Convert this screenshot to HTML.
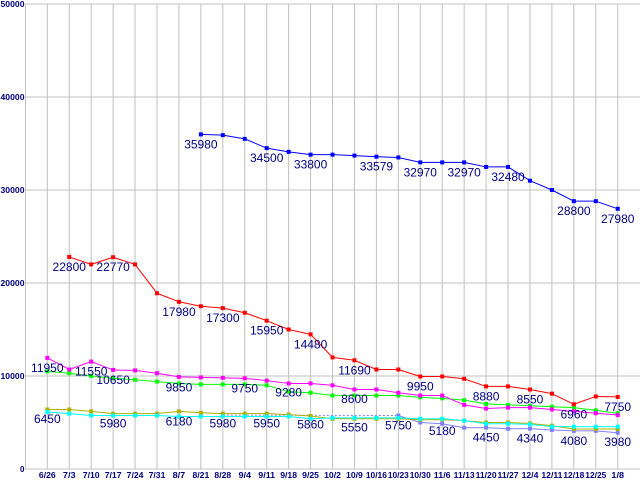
<!DOCTYPE html>
<html><head><meta charset="utf-8"><style>
body{margin:0;background:#fff}
svg{display:block;font-family:"Liberation Sans",sans-serif}
</style></head><body>
<svg id="chart" width="640" height="480"></svg>
<script>
const categories=["6/26","7/3","7/10","7/17","7/24","7/31","8/7","8/21","8/28","9/4","9/11","9/18","9/25","10/2","10/9","10/16","10/23","10/30","11/6","11/13","11/20","11/27","12/4","12/11","12/18","12/25","1/8"];
const yTicks=[0,10000,20000,30000,40000,50000];
const N=null;
const blueVals=[N,N,N,N,N,N,N,35980,35900,35500,34500,34100,33800,33800,33700,33579,33500,32970,32970,32970,32480,32480,31000,30000,28800,28800,27980];
const redVals=[N,22800,22000,22770,22000,18900,17980,17500,17300,16800,15950,15000,14480,12000,11690,10700,10700,9950,9950,9700,8880,8880,8550,8100,6960,7800,7750];
const magentaVals=[11950,10700,11550,10650,10600,10300,9900,9850,9800,9750,9500,9200,9200,9000,8550,8550,8200,7900,7900,6900,6500,6600,6600,6400,6200,6000,5800];
const greenVals=[10500,10300,10000,9750,9600,9400,9200,9100,9100,9100,9000,8300,8200,7900,7900,7900,7900,7700,7600,7400,7000,6900,6800,6700,6600,6300,6000];
const oliveVals=[6400,6400,6200,5950,5950,5950,6200,6050,5950,5950,5950,5850,5700,5400,5400,5400,5400,5300,5300,5200,5000,5000,4900,4650,4300,4300,4300];
const cyanVals=[6130,5950,5750,5750,5750,5750,5650,5650,5650,5650,5650,5650,5400,5500,5500,5500,5500,5400,5400,5200,4870,4870,4800,4550,4550,4550,4550];
const lavenderVals=[N,N,N,N,N,N,N,N,5800,N,N,N,N,N,N,N,5750,5000,4870,4440,4450,4330,4340,4200,4100,4100,3900];
const labelIdx=[1,3,6,8,10,12,14,0,2,3,6,9,11,14,17,20,22,24,26,7,10,12,15,17,19,21,24,26,0,3,6,8,10,12,14,16,18,20,22,24,26];
const labelVals=[22800,22770,17980,17300,15950,14480,11690,11950,11550,10650,9850,9750,9280,8600,9950,8880,8550,6960,7750,35980,34500,33800,33579,32970,32970,32480,28800,27980,6450,5980,6180,5980,5950,5860,5550,5750,5180,4450,4340,4080,3980];

const svg=document.getElementById('chart');
const NS='http://www.w3.org/2000/svg';
const x0=47.3,dx=21.94,yBase=469,yTop=4,left=25.5;
function xS(i){return x0+i*dx;}
function yS(v){return yBase-v*(yBase-yTop)/50000;}
function mk(t,a,p){const e=document.createElementNS(NS,t);for(const k in a)e.setAttribute(k,a[k]);(p||svg).appendChild(e);return e;}

const grid=mk('g',{});


yTicks.forEach(v=>{
  const l=mk('line',{x1:left,x2:640,y1:yS(v),y2:yS(v),stroke:'#c0c0c0','stroke-width':1},grid);
  
  
  const s=String(v);
  const attrs={x:left-1,y:yS(v)+3,'text-anchor':'end','font-size':8,'font-weight':'bold',fill:'#000080'};
  if(s.length>1){attrs.textLength=s.length*4.8;attrs.lengthAdjust='spacingAndGlyphs';}
  const t=mk('text',attrs,svg);
  t.textContent=s;
  
  
});
categories.forEach((c,i)=>{
  const l=mk('line',{x1:xS(i),x2:xS(i),y1:yTop,y2:yBase,stroke:'#c0c0c0','stroke-width':1},grid);
  
  
  const t=mk('text',{x:xS(i),y:yBase+9,'text-anchor':'middle','font-size':8,'font-weight':'bold',fill:'#000080',textLength:c.length*4.2,lengthAdjust:'spacingAndGlyphs'},svg);
  t.textContent=c;
  
  
});
const ax=mk('line',{x1:left,x2:left,y1:yTop,y2:yBase,stroke:'#c0c0c0','stroke-width':1});



function series(vals,color,name){
  const g=mk('g',{});
  
  
  let prev=-1;
  vals.forEach((v,i)=>{
    if(v===null)return;
    if(prev>=0){
      const ln=mk('line',{x1:xS(prev),y1:yS(vals[prev]),x2:xS(i),y2:yS(v),stroke:color,'stroke-width':1},g);
      if(i-prev>1)ln.setAttribute('stroke-dasharray','2,2');
      
      
    }
    prev=i;
  });
  vals.forEach((v,i)=>{
    if(v===null)return;
    const r=mk('rect',{x:xS(i)-2,y:yS(v)-2,width:4,height:4,fill:color},g);
    
    
  });
}
series(lavenderVals,'#8080ff','lavender-series');
series(oliveVals,'#b0b000','olive-series');
series(cyanVals,'#00ffff','cyan-series');
series(greenVals,'#00ff00','green-series');
series(magentaVals,'#ff00ff','magenta-series');
series(redVals,'#ff0000','red-series');
series(blueVals,'#0000ff','blue-series');

labelIdx.forEach((ci,k)=>{
  const t=mk('text',{x:xS(ci),y:yS(labelVals[k])+14,'text-anchor':'middle','font-size':12,fill:'#000080'});
  t.textContent=labelVals[k];
  
  
});
</script>
</body></html>
